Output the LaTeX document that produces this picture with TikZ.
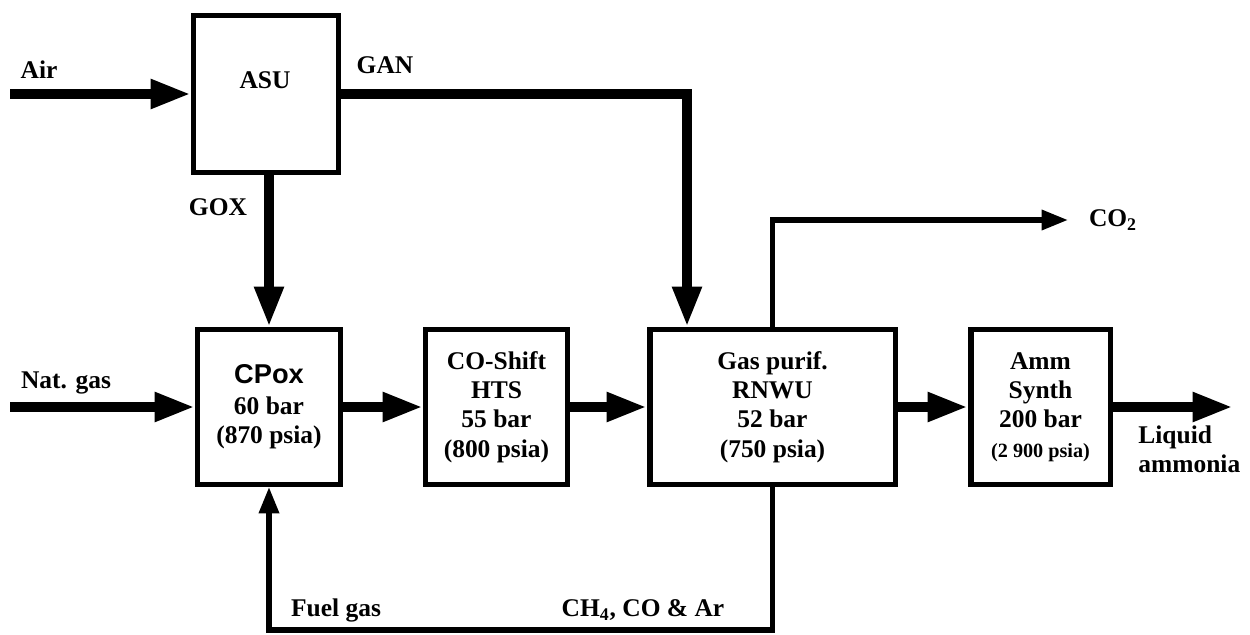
\documentclass[tikz,border=0pt]{standalone}
\usepackage{fontspec}
\setmainfont{Liberation Serif}
\newfontfamily\cpoxfont{Liberation Sans}
\usetikzlibrary{arrows.meta}
\begin{document}
\begin{tikzpicture}[x=0.02cm,y=-0.02cm,
  txt/.style={inner sep=0pt, align=center, font=\fontsize{14.5}{16.6}\selectfont\bfseries},
  box/.style={draw, line width=3.1pt, inner sep=0pt, align=center,
    font=\fontsize{14.5}{16.6}\selectfont\bfseries, minimum height=3.09cm},
  fat/.style={line width=5.7pt, -{Triangle[length=23pt,width=15.5pt]}},
  slim/.style={line width=3.1pt, -{Triangle[length=15pt,width=11pt]}}
]
\useasboundingbox (0,0) rectangle (1250,635);

% boxes
\node[box, minimum width=2.89cm, minimum height=3.13cm] (asu) at (266,94) {};
\node[txt] (asulbl) at (265,80) {ASU};
\node[box, minimum width=2.85cm] (cpox) at (269,407)
  {{\cpoxfont\fontsize{15.5}{18}\selectfont CPox}\\[1pt]60 bar\\(870 psia)};
\node[box, minimum width=2.83cm] (shift) at (496.5,407)
  {CO-Shift\\HTS\\55 bar\\(800 psia)};
\node[box, minimum width=4.91cm] (gas) at (772.5,407)
  {Gas purif.\\RNWU\\52 bar\\(750 psia)};
\node[box, minimum width=2.79cm] (amm) at (1040.5,407)
  {Amm\\Synth\\200 bar\\{\fontsize{11.5}{14}\selectfont (2 900 psia)}};

% coordinates
\coordinate (airstart) at (10,94);
\coordinate (natstart) at (10,407);
\coordinate (gancorner) at (687,94);
\coordinate (co2corner) at (772.5,220);
\coordinate (co2end) at (1068,220);
\coordinate (liqend) at (1233,407);
\coordinate (bottom) at (0,630);

% labels
\node[txt] (air) at (39,70) {Air};
\node[txt] (gan) at (385,65) {GAN};
\node[txt] (gox) at (218,207) {GOX};
\node[txt] (nat) at (66,383) {Nat. gas};
\node[txt] (co2) at (1113,220) {CO\textsubscript{2}};
\node[txt, anchor=west, align=left] (liq) at (1138,449) {Liquid\\ammonia};
\node[txt] (fuel) at (336,610) {Fuel gas};
\node[txt] (ch4) at (643,610) {CH\textsubscript{4}, CO \& Ar};

% connectors
\draw[fat] (airstart) -- (asu.west |- airstart);
\draw[fat] (asu.east) -- (gancorner) -- (gancorner |- gas.north);
\draw[fat] (cpox.north |- asu.south) -- (cpox.north);
\draw[fat] (natstart) -- (cpox.west);
\draw[fat] (cpox.east) -- (shift.west);
\draw[fat] (shift.east) -- (gas.west);
\draw[fat] (gas.east) -- (amm.west);
\draw[fat] (amm.east) -- (liqend);
\draw[slim] (gas.north) -- (co2corner) -- (co2end);
\draw[slim] (gas.south) -- (gas.south |- bottom) -- (cpox.south |- bottom) -- (cpox.south);
\end{tikzpicture}
\end{document}
